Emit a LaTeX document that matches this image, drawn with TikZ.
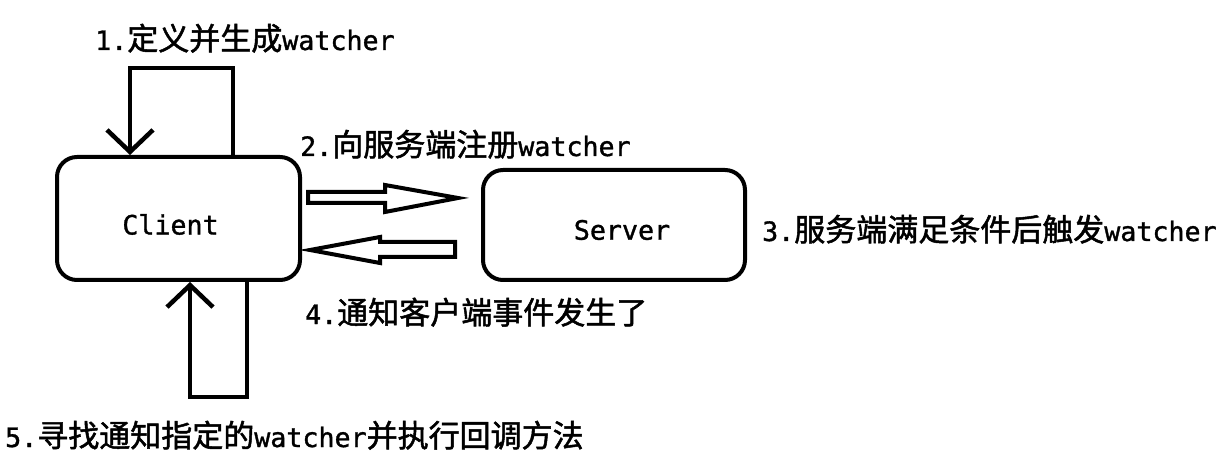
\documentclass[tikz,border=0pt]{standalone}
\usepackage{fontspec}
\setmainfont[Scale=0.86,FakeBold=1.2]{DejaVu Sans Mono}
\newfontfamily\cjk[FakeBold=1.6]{Noto Sans CJK SC}
\newcommand\zh[1]{{\cjk #1}}
\usetikzlibrary{arrows.meta,calc}
\tikzset{
  lbl/.style={anchor=base west,inner sep=0pt,font=\fontsize{31}{37}\selectfont},
  boxnode/.style={draw,line width=4pt,rounded corners=20pt,inner sep=0pt,font=\fontsize{31}{37}\selectfont},
  loopline/.style={line width=4.5pt,-{Straight Barb[length=22pt,width=46pt]}},
  fatarrow/.style={draw,line width=4pt,line join=miter},
}
\begin{document}
\begin{tikzpicture}[x=1pt,y=-1pt]
\useasboundingbox (0,0) rectangle (1226,470);
% boxes
\node[boxnode,minimum width=243pt,minimum height=123pt] (client) at (178.5,218.5)
  {\hspace*{-16pt}\raisebox{-6pt}[\height][\depth]{Client}};
\node[boxnode,minimum width=262pt,minimum height=110pt] (server) at (614,225)
  {\hspace*{16pt}\raisebox{-5pt}[\height][\depth]{Server}};
% labels
\node[lbl] (l1) at (95,50) {1.\zh{定义并生成}watcher};
\node[lbl] (l2) at (300,156) {2.\zh{向服务端注册}watcher};
\node[lbl] (l3) at (762,241) {3.\zh{服务端满足条件后触发}watcher};
\node[lbl] (l4) at (305,324) {4.\zh{通知客户端事件发生了}};
\node[lbl] (l5) at (5,447) {5.\zh{寻找通知指定的}watcher\zh{并执行回调方法}};
% top self loop
\coordinate (tr) at (233,68);
\coordinate (tl) at (130,68);
\draw[loopline] (client.north -| tr) -- (tr) -- (tl) -- (client.north -| tl);
% bottom self loop
\coordinate (br) at (247,397);
\coordinate (bl) at (190,397);
\draw[loopline] (client.south -| br) -- (br) -- (bl) -- (client.south -| bl);
% fat arrows between client and server
\draw[fatarrow] (308,192) -- (385,192) -- (385,185) -- (458,198) -- (385,212) -- (385,203) -- (308,203) -- cycle;
\draw[fatarrow] (455,242) -- (380,242) -- (380,237) -- (310,250) -- (380,263) -- (380,257) -- (455,257) -- cycle;
\end{tikzpicture}
\end{document}
